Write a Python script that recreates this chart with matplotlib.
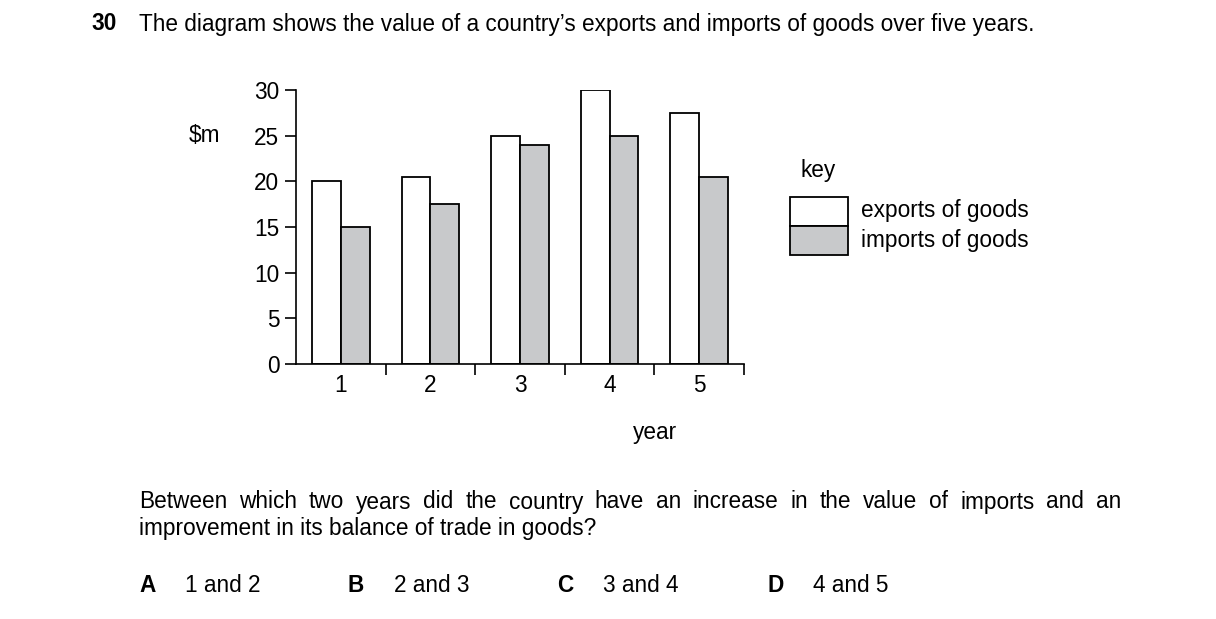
import matplotlib.pyplot as plt
from matplotlib.patches import Rectangle

plt.rcParams['font.family'] = ['Liberation Sans', 'DejaVu Sans']

years = [1, 2, 3, 4, 5]
exports = [20, 20.5, 25, 30, 27.5]
imports = [15, 17.5, 24, 25, 20.5]

W, H = 1216, 619
fig = plt.figure(figsize=(W / 100, H / 100), dpi=100)


def fx(px):
    return px / W


def fy(py):
    return 1 - py / H


fs = 16.3

ax = fig.add_axes([fx(296), fy(364), fx(744) - fx(296), fy(90) - fy(364)])
bw = 0.322
ax.bar([y - bw / 2 for y in years], exports, width=bw, color='white',
       edgecolor='black', linewidth=1.3)
ax.bar([y + bw / 2 for y in years], imports, width=bw, color='#c8c9cb',
       edgecolor='black', linewidth=1.3)
ax.set_xlim(0.5, 5.5)
ax.set_ylim(0, 30)
ax.set_yticks(range(0, 31, 5))
ax.set_xticks([1.5, 2.5, 3.5, 4.5, 5.5])
ax.set_xticklabels([])
for y in years:
    ax.text(y, -1.1, str(y), ha='center', va='top', fontsize=fs)
ax.tick_params(axis='both', direction='out', length=8, width=1.2, labelsize=fs, pad=2)
ax.tick_params(axis='y', pad=4)
for s in ['top', 'right']:
    ax.spines[s].set_visible(False)
for s in ['left', 'bottom']:
    ax.spines[s].set_linewidth(1.2)

fig.text(fx(91), fy(24), '30', fontsize=fs, fontweight='bold', va='center')
fig.text(fx(139), fy(24), 'The diagram shows the value of a country\u2019s exports and imports of goods over five years.',
         fontsize=fs, va='center')
fig.text(fx(189), fy(135), '$m', fontsize=fs, va='center')
fig.text(fx(655), fy(432), 'year', fontsize=fs, va='center', ha='center')

# key
fig.text(fx(818), fy(171), 'key', fontsize=fs, va='center', ha='center')
for top, col, lab in [(197, 'white', 'exports of goods'), (226, '#c8c9cb', 'imports of goods')]:
    fig.patches.append(Rectangle((fx(790), fy(top + 29)), fx(848) - fx(790), fy(top) - fy(top + 29),
                                 transform=fig.transFigure, facecolor=col, edgecolor='black', linewidth=1.3))
    fig.text(fx(861), fy(top + 14), lab, fontsize=fs, va='center')

# justified first line of the question
line1 = 'Between which two years did the country have an increase in the value of imports and an'.split()
renderer = fig.canvas.get_renderer()
widths = []
arts = []
for w in line1:
    t = fig.text(0, fy(502), w, fontsize=fs, va='center')
    widths.append(t.get_window_extent(renderer).width)
    arts.append(t)
gap = (1121 - 139 - sum(widths)) / (len(line1) - 1)
x = 139
for t, wd in zip(arts, widths):
    t.set_x(fx(x))
    x += wd + gap
fig.text(fx(139), fy(529), 'improvement in its balance of trade in goods?', fontsize=fs, va='center')

for x, letter, ans in [(139, 'A', '1 and 2'), (348, 'B', '2 and 3'), (557, 'C', '3 and 4'), (767, 'D', '4 and 5')]:
    fig.text(fx(x), fy(585), letter, fontsize=fs, fontweight='bold', va='center')
    fig.text(fx(x + 46), fy(585), ans, fontsize=fs, va='center')

fig.savefig('out.png', dpi=100)
